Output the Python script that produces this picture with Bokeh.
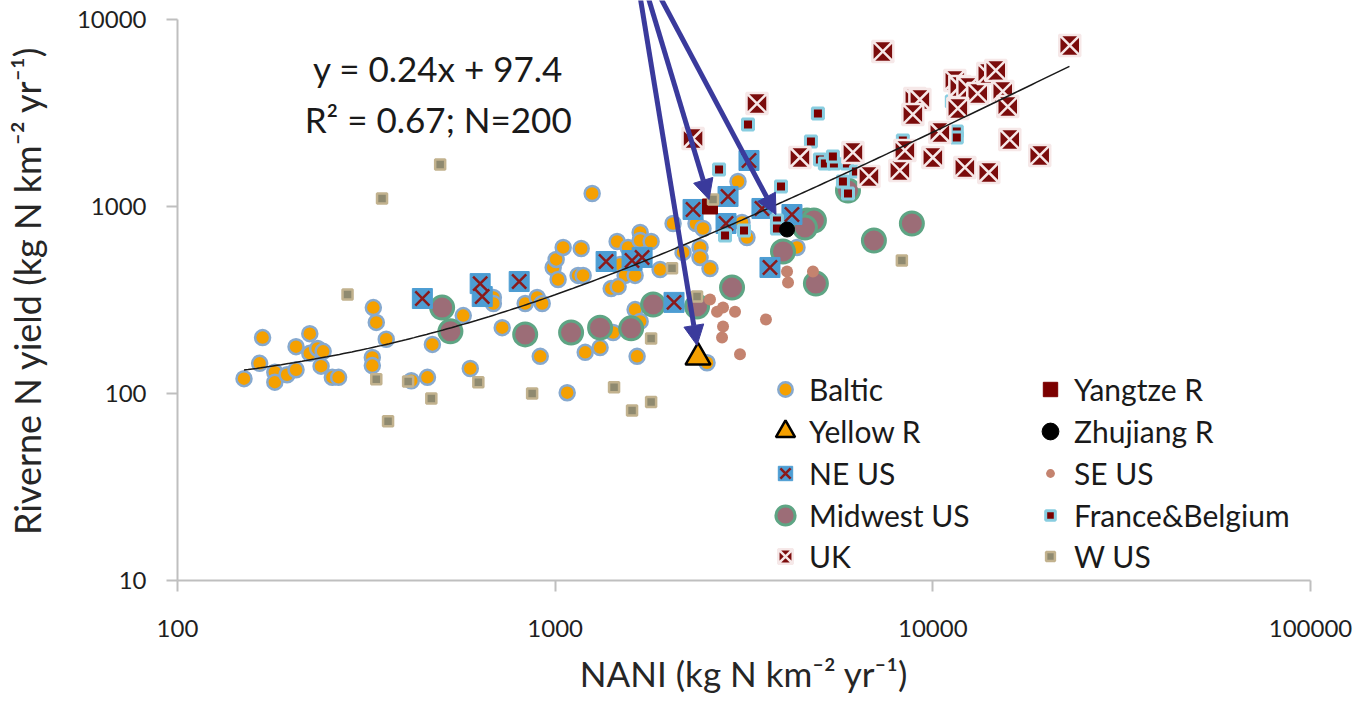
import numpy as np
from bokeh.plotting import figure
from bokeh.models import (Legend, LegendItem, Label, Arrow, NormalHead, FixedTicker,
                          NumeralTickFormatter, Range1d)
from bokeh.embed import file_html
from bokeh.resources import INLINE

# ---------------- data ----------------
baltic_x = [150, 168, 165, 181, 181, 195, 206, 206, 224, 224, 235, 243, 240, 257, 267, 330, 336, 357, 328, 328,
            416, 459, 473, 571, 596, 686, 686, 724, 833, 896, 924, 913, 1076, 1201, 1315, 1424, 1648, 1628, 1679, 988,
            1006, 1018, 1050, 1172, 1150, 1186, 1253, 1459, 1560, 1679, 1679, 1795, 1486, 1532, 1628, 1407, 1468, 1896, 2052, 2181,
            2360, 2463, 2419, 2419, 2570, 3124, 3220, 3049, 4368, 2524]
baltic_y = [120, 199, 145, 130, 115, 126, 134, 178, 209, 164, 174, 168, 140, 122, 122, 288, 240, 195, 156, 141,
            117, 122, 183, 261, 136, 326, 303, 225, 303, 326, 303, 158, 101, 166, 176, 212, 158, 281, 243, 472,
            521, 407, 604, 596, 428, 428, 1173, 650, 604, 726, 658, 650, 490, 428, 428, 364, 373, 460, 811, 568,
            811, 763, 604, 534, 466, 821, 683, 1360, 604, 146]

yellow_x = [2389]
yellow_y = [156]

yangtze_x = [2570]
yangtze_y = [1000]

zhujiang_x = [4111]
zhujiang_y = [753]

neus_x = [445, 633, 641, 803, 1364, 1598, 1699, 2064, 2318, 2869, 2834, 3260, 3528, 4236, 3705]
neus_y = [322, 387, 330, 397, 508, 514, 534, 307, 964, 1131, 811, 1762, 976, 906, 472]

midwest_x = [502, 528, 833, 1102, 1315, 1589, 1817, 2375, 2940, 4011, 4642, 4843, 4586, 4902, 6982, 8800, 5961]
midwest_y = [288, 215, 207, 212, 225, 223, 299, 292, 369, 575, 842, 842, 772, 387, 658, 811, 1218]

uk_x = [7373, 23040, 3423, 2318, 4447, 6143, 6773, 8179, 8432, 8961, 9240, 8853, 10435, 10000, 11435, 11788, 12379,
        13152, 13979, 14678, 15316, 15789, 11646, 12155, 14065, 15985, 19187]
uk_y = [6745, 7261, 3554, 2310, 1828, 1945, 1447, 1558, 1993, 3780, 3734, 3105, 2487, 1828, 4719, 4382, 4329,
        4021, 5142, 5338, 4121, 3425, 3343, 1617, 1520, 2282, 1874]

france_x = [4963, 3240, 4756, 2716, 3962, 5023, 5178, 5471, 5437, 5923, 5961, 5780, 6257, 3866, 3866, 2817, 3162,
            11226, 11574, 11574, 8329]
france_y = [3143, 2745, 2226, 1577, 1279, 1784, 1698, 1698, 1851, 1698, 1173, 1360, 1539, 842, 763, 700, 744,
            3643, 2518, 2339, 2254]

seus_x = [4111, 4136, 4815, 2570, 2783, 2683, 2994, 2783, 2766, 3615, 3086]
seus_y = [449, 392, 449, 318, 288, 274, 274, 228, 199, 249, 162]

wus_x = [496, 348, 282, 336, 408, 470, 361, 626, 869, 1432, 1598, 1795, 1795, 2039, 2375, 2618, 8279]
wus_y = [1677, 1104, 338, 119, 116, 94, 71, 115, 100, 108, 81, 90, 197, 467, 330, 1090, 514]

# linear trendline shown on the chart
trend_slope = 0.24
trend_intercept = 97.4
trend_x_range = [150, 23000]

x_ticks = [100, 1000, 10000, 100000]
y_ticks = [10, 100, 1000, 10000]

# arrows (annotation end points, data units); they enter from above the chart
arrow_x_start = [1679, 1762, 1896]
arrow_y_start = [13200, 13200, 13200]
arrow_x_end = [2375, 2555, 3843]
arrow_y_end = [181, 1090, 906]

FONT = "Lato"

# the frame reaches the top of the page so the arrows can run to the edge;
# the y axis line itself stops at 10000
Y_TOP = 12635

p = figure(width=1356, height=700, x_axis_type="log", y_axis_type="log",
           x_range=Range1d(100, 100000), y_range=Range1d(10, Y_TOP),
           output_backend="svg", toolbar_location=None,
           min_border_left=177, min_border_right=46, min_border_top=0, min_border_bottom=120)
p.outline_line_color = None
p.grid.visible = False
p.background_fill_color = "white"
p.border_fill_color = "white"

for ax in (p.xaxis[0], p.yaxis[0]):
    ax.axis_line_color = "#bfbfbf"
    ax.axis_line_width = 2
    ax.major_tick_line_color = "#bfbfbf"
    ax.major_tick_line_width = 2
    ax.major_tick_in = 0
    ax.major_tick_out = 11
    ax.minor_tick_line_color = None
    ax.major_label_text_font = FONT
    ax.major_label_text_font_size = "24px"
    ax.major_label_text_color = "#1f1f1f"
    ax.axis_label_text_font = FONT
    ax.axis_label_text_font_size = "35px"
    ax.axis_label_text_font_style = "normal"
    ax.axis_label_text_color = "#262626"
    ax.formatter = NumeralTickFormatter(format="0")

p.yaxis[0].bounds = (10, 10000)
p.yaxis[0].axis_label_text_font_size = "36px"
p.xaxis[0].ticker = FixedTicker(ticks=x_ticks)
p.yaxis[0].ticker = FixedTicker(ticks=y_ticks)
p.xaxis[0].major_label_standoff = 28
p.xaxis[0].axis_label_standoff = 12
p.yaxis[0].major_label_standoff = 20
p.yaxis[0].axis_label_standoff = 25
p.xaxis[0].axis_label = "NANI (kg N km\u207b\u00b2 yr\u207b\u00b9)"
p.yaxis[0].axis_label = "Riverne N yield (kg N km\u207b\u00b2 yr\u207b\u00b9)"

# ---------------- series ----------------
r_baltic = p.scatter(baltic_x, baltic_y, marker="circle", size=15, fill_color="#f5a000",
                     line_color="#86a9cf", line_width=2.5)
r_mid = p.scatter(midwest_x, midwest_y, marker="circle", size=23, fill_color="#9c6d77",
                  line_color="#5ea584", line_width=3)
r_seus = p.scatter(seus_x, seus_y, marker="circle", size=12, fill_color="#c4836f", line_color=None)
r_neus_sq = p.scatter(neus_x, neus_y, marker="square", size=20, fill_color="#4d9dd3", line_color="#4d9dd3",
                      line_width=1)
r_neus_x = p.scatter(neus_x, neus_y, marker="x", size=20, line_color="#8b1a1a", line_width=2.5)
r_fr = p.scatter(france_x, france_y, marker="square", size=11, fill_color="#7b0000",
                 line_color="#88cde0", line_width=3)
r_uk = p.scatter(uk_x, uk_y, marker="square_x", size=21, fill_color="#7b0c0c",
                 line_color="#f6e8e8", line_width=2.5)
r_yz = p.scatter(yangtze_x, yangtze_y, marker="square", size=15, fill_color="#7b0000", line_color="#7b0000")
r_wus = p.scatter(wus_x, wus_y, marker="square", size=10, fill_color="#8f8a70",
                  line_color="#c2b28e", line_width=2.5)
r_zj = p.scatter(zhujiang_x, zhujiang_y, marker="circle", size=15, fill_color="black", line_color="black")
r_yel = p.scatter(yellow_x, yellow_y, marker="triangle", size=25, fill_color="#f5a000",
                  line_color="black", line_width=2.5)

tx = np.geomspace(trend_x_range[0], trend_x_range[1], 200)
p.line(tx, trend_slope * tx + trend_intercept, line_color="#1a1a1a", line_width=1.5)

for xs, ys, xe, ye in zip(arrow_x_start, arrow_y_start, arrow_x_end, arrow_y_end):
    p.add_layout(Arrow(end=NormalHead(size=20, fill_color="#3a3a9c", line_color="#3a3a9c"),
                       x_start=xs, y_start=ys, x_end=xe, y_end=ye,
                       line_color="#3a3a9c", line_width=5))

p.add_layout(Label(x=490, y=5470, text="y = 0.24x + 97.4", text_align="center", text_baseline="middle",
                   text_font=FONT, text_font_size="35px", text_color="#1a1a1a"))
p.add_layout(Label(x=490, y=2955, text="R\u00b2 = 0.67; N=200", text_align="center", text_baseline="middle",
                   text_font=FONT, text_font_size="35px", text_color="#1a1a1a"))

# ---------------- legend: one small legend per entry so each glyph gets its own size ----------------
col_center = [608, 873]               # glyph centre, px from the frame's left edge
row_center = [191, 149, 107, 65, 24]  # item centre, px above the frame's bottom edge
TEXT_OFFSET = 24                      # from glyph centre to label start

legend_entries = [
    ("Baltic", [r_baltic], 36, 0, 0),
    ("Yellow R", [r_yel], 48, 0, 1),
    ("NE US", [r_neus_sq, r_neus_x], 36, 0, 2),
    ("Midwest US", [r_mid], 48, 0, 3),
    ("UK", [r_uk], 36, 0, 4),
    ("Yangtze R", [r_yz], 36, 1, 0),
    ("Zhujiang R", [r_zj], 42, 1, 1),
    ("SE US", [r_seus], 22, 1, 2),
    ("France&Belgium", [r_fr], 24, 1, 3),
    ("W US", [r_wus], 22, 1, 4),
]

for label, rends, box, col, row in legend_entries:
    item_h = max(box, 36)
    lg = Legend(items=[LegendItem(label=label, renderers=rends)],
                location=(col_center[col] - box // 2, row_center[row] - item_h // 2),
                orientation="vertical",
                glyph_width=box, glyph_height=box, label_height=36,
                label_standoff=TEXT_OFFSET - box // 2, spacing=0,
                padding=0, margin=0, border_line_color=None, background_fill_alpha=0,
                label_text_font=FONT, label_text_font_size="30px", label_text_color="#1a1a1a")
    p.add_layout(lg)

open("out.html", "w").write(file_html(p, INLINE))
